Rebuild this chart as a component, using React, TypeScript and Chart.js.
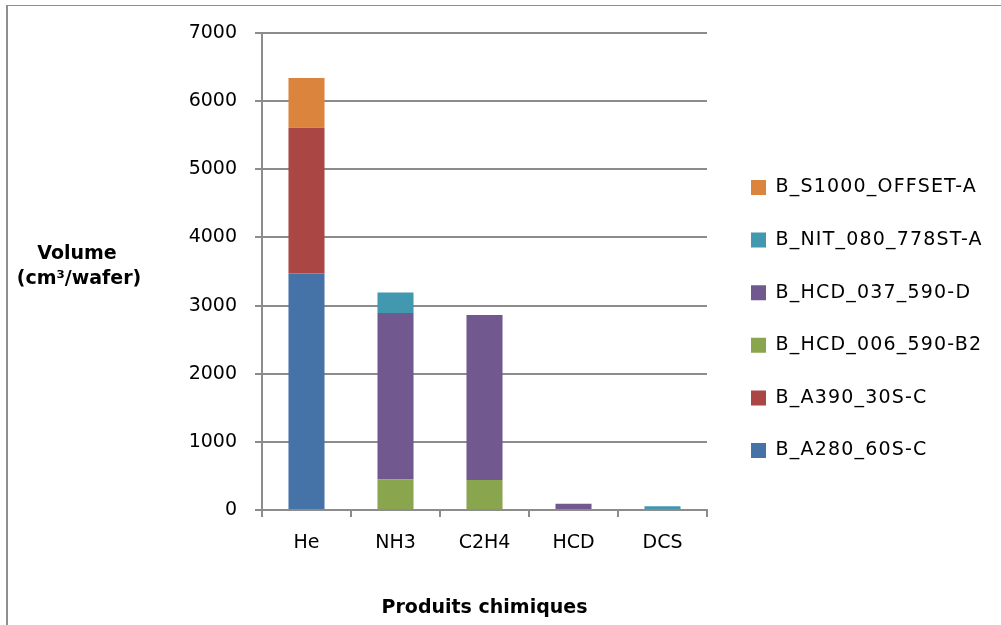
import React, { useEffect, useRef } from "react";
import { Chart, registerables } from "chart.js";

Chart.register(...registerables);

const categories = ["He", "NH3", "C2H4", "HCD", "DCS"];
const seriesNames = [
  "B_A280_60S-C",
  "B_A390_30S-C",
  "B_HCD_006_590-B2",
  "B_HCD_037_590-D",
  "B_NIT_080_778ST-A",
  "B_S1000_OFFSET-A",
];
const a280 = [3470, 0, 0, 0, 0];
const a390 = [2140, 0, 0, 0, 0];
const hcd006 = [0, 450, 440, 0, 0];
const hcd037 = [0, 2440, 2420, 90, 0];
const nit080 = [0, 300, 0, 0, 55];
const s1000 = [730, 0, 0, 0, 0];
const seriesColors = ["#4572A7", "#AA4643", "#89A54E", "#71588F", "#4198AF", "#DB843D"];
const yTitleLines = ["Volume", "(cm³/wafer)"];
const xTitle = "Produits chimiques";

const FONT = "'DejaVu Sans', 'Open Sans', sans-serif";
const GRID = "#8c8c8c";

export default function App() {
  const ref = useRef<HTMLCanvasElement | null>(null);

  useEffect(() => {
    if (!ref.current) return;
    const values = [a280, a390, hcd006, hcd037, nit080, s1000];
    const LEG_PAD = 33.6;
    const LEG_FONT = 19;
    const LEG_BOX = 15;

    const custom = {
      id: "custom",
      afterLayout(chart: any) {
        const lg = chart.legend;
        if (!lg) return;
        if (!lg._patchedDraw) {
          const origDraw = lg.draw.bind(lg);
          lg.draw = function (area: any) {
            const c = chart.ctx;
            c.save();
            try {
              (c as any).letterSpacing = "1.2px";
            } catch (e) {}
            origDraw(area);
            c.restore();
          };
          lg._patchedDraw = true;
        }
        const bottomSpan = 400;
        const colH = 6 * (LEG_FONT + LEG_PAD);
        const firstTop = 178;
        lg.left = 751 - LEG_PAD;
        lg.right = lg.left + 285;
        lg.top = firstTop - (LEG_PAD + bottomSpan - colH) / 2;
        lg.bottom = lg.top + bottomSpan;
      },
      afterDraw(chart: any) {
        const ctx = chart.ctx;
        ctx.save();
        ctx.fillStyle = "#000";
        ctx.font = `bold 19px ${FONT}`;
        ctx.textAlign = "center";
        ctx.textBaseline = "alphabetic";
        ctx.fillText(yTitleLines[0], 77, 259);
        ctx.fillText(yTitleLines[1], 79, 284);
        ctx.restore();
      },
    };

    const chart = new Chart(ref.current, {
      type: "bar",
      data: {
        labels: categories,
        datasets: seriesNames.map((name, i) => ({
          label: name,
          data: values[i],
          backgroundColor: seriesColors[i],
          borderWidth: 0,
          categoryPercentage: 1,
          barPercentage: 0.405,
        })),
      },
      options: {
        responsive: false,
        animation: false,
        layout: { padding: { left: 0, right: 294, top: 33, bottom: 0 } },
        plugins: {
          legend: {
            position: "chartArea",
            fullSize: false,
            reverse: true,
            labels: {
              boxWidth: LEG_BOX,
              boxHeight: LEG_BOX,
              padding: LEG_PAD,
              color: "#000",
              font: { family: FONT, size: LEG_FONT },
            },
          },
          tooltip: { enabled: false },
          title: { display: false },
        },
        scales: {
          x: {
            stacked: true,
            afterFit(scale: any) {
              scale.height = 115;
            },
            grid: {
              drawOnChartArea: false,
              drawTicks: true,
              tickLength: 7,
              color: GRID,
              lineWidth: 2,
              offset: true,
            },
            border: { color: GRID, width: 2 },
            ticks: {
              color: "#000",
              padding: 15,
              font: { family: FONT, size: 19 },
            },
            title: {
              display: true,
              text: xTitle,
              color: "#000",
              font: { family: FONT, size: 19, weight: "bold" },
              padding: { top: 0, bottom: 6 },
            },
          },
          y: {
            stacked: true,
            min: 0,
            max: 7000,
            afterFit(scale: any) {
              scale.width = 262;
            },
            grid: {
              color: GRID,
              lineWidth: 2,
              tickLength: 7,
              drawTicks: true,
            },
            border: { color: GRID, width: 2 },
            ticks: {
              stepSize: 1000,
              color: "#000",
              padding: 18,
              font: { family: FONT, size: 19 },
              callback: (v: any) => String(v),
            },
          },
        },
      },
      plugins: [custom],
    } as any);

    return () => chart.destroy();
  }, []);

  return (
    <div>
      <div
        style={{
          position: "fixed",
          left: 6,
          top: 5,
          width: 993,
          height: 619,
          borderLeft: "2px solid #8f8f8f",
          borderTop: "1px solid #8f8f8f",
          background: "#fff",
        }}
      />
      <canvas
        ref={ref}
        width={1001}
        height={625}
        style={{ position: "fixed", left: 0, top: 0, display: "block" }}
      />
    </div>
  );
}
